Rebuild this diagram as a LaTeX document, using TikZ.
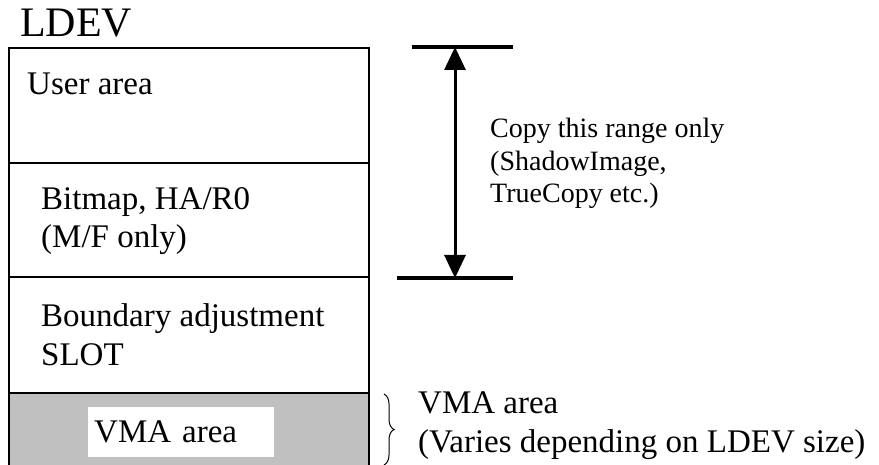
\documentclass[tikz,border=0pt]{standalone}
\usepackage{fontspec}
\setmainfont{Liberation Serif}
\usepackage{xcolor}
\usetikzlibrary{arrows.meta}
\usetikzlibrary{decorations.pathreplacing, math}
\definecolor{vmagray}{RGB}{192,192,192}

\tikzset{
  txt/.style={anchor=base west, inner sep=0, align=left, font=\fontsize{33}{38.5}\selectfont},
  smalltxt/.style={anchor=base west, inner sep=0, align=left, font=\fontsize{28}{32.5}\selectfont},
  rangeline/.style={line width=3.5, line cap=butt},
}

\begin{document}
\begin{tikzpicture}[x=1pt,y=-1pt]
\tikzmath{
\xl=9; \xr=369;
\ytop=48; \ya=163; \yb=277; \yc=393; \ybot=467;
\xarr=455;
}
\useasboundingbox (0,0) rectangle (879,465);

% LDEV column (base anchor of a two line node = last line)
\node[anchor=base west, inner sep=0, font=\fontsize{42}{46}\selectfont] (ldev) at (20,37) {LDEV};
\fill[color=vmagray] (\xl,\yc) rectangle (\xr,\ybot);
\draw[line width=1.6] (\xl,\ytop) rectangle (\xr,\ybot);
\draw[line width=1.6] (\xl,\ya) -- (\xr,\ya);
\draw[line width=1.6] (\xl,\yb) -- (\xr,\yb);
\draw[line width=1.6] (\xl,\yc) -- (\xr,\yc);

\node[txt] (user) at (27,95) {User area};
\node[txt] (bitmap) at (41,248) {Bitmap, HA/R0\\(M/F only)};
\node[txt] (slot) at (41,365) {Boundary adjustment\\SLOT};
\node[fill=white, anchor=north west, inner xsep=6, inner ysep=0, minimum height=50, text width=174,
      align=left, font=\fontsize{33}{38.5}\selectfont] (vma) at (88,407) {VMA area};

% copy range
\coordinate (rtop) at (\xarr,47);
\coordinate (rbot) at (\xarr,278);
\draw[rangeline] (rtop) +(-43,0) -- +(58,0);
\draw[rangeline] (rbot) +(-58,0) -- +(58,0);
\draw[{Triangle[width=21pt,length=23pt]}-{Triangle[width=21pt,length=23pt]}, line width=3] (rtop) -- (rbot);
\node[smalltxt] (copy) at (490,203) {Copy this range only\\(ShadowImage,\\TrueCopy etc.)};

% VMA brace
\coordinate (bt) at (384,394);
\coordinate (bb) at (384,465);
\draw[line width=1, decorate, decoration={brace, amplitude=10pt}] (bt) -- (bb);
\node[txt] (vmanote) at (418,452) {VMA area\\(Varies depending on LDEV size)};
\end{tikzpicture}
\end{document}
